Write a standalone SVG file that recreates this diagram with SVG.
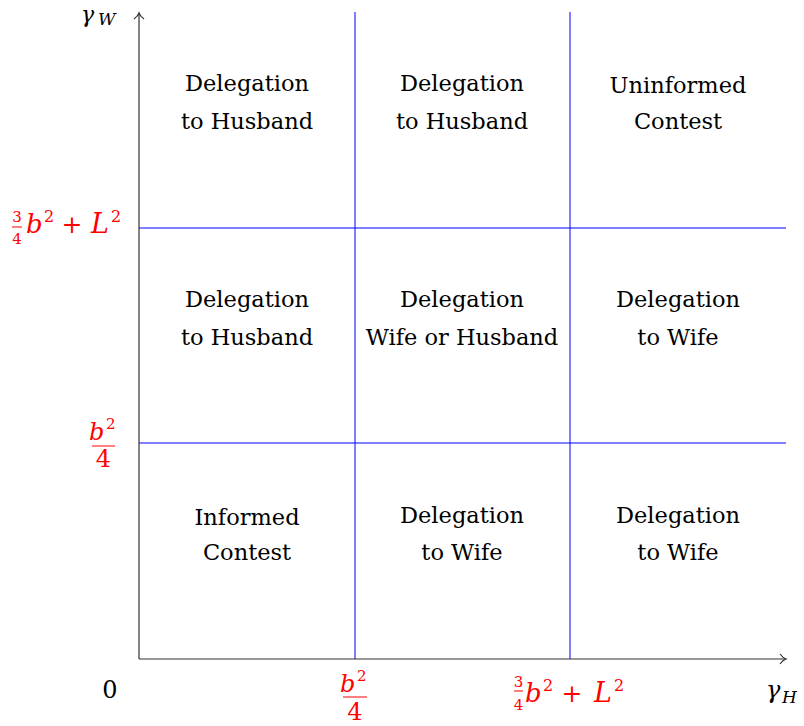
<svg xmlns="http://www.w3.org/2000/svg" width="804" height="726" viewBox="0 0 804 726">
<style>
.cell{font-family:"DejaVu Serif",serif;font-size:22.5px;fill:#000;text-anchor:middle}
.m{font-family:"DejaVu Serif",serif;fill:#ff0000}
.mi{font-style:italic}
.ax{font-family:"DejaVu Serif",serif;fill:#000}
.axis{stroke:#333;stroke-width:1.2;fill:none}
.grid{stroke:#0000ff;stroke-width:1;fill:none}
.bar{stroke:#ff0000;stroke-width:1}
</style>
<defs>
<marker id="arr" markerWidth="10" markerHeight="12" refX="8" refY="6" orient="auto" markerUnits="userSpaceOnUse">
<path d="M2,1 Q5,5 8,6 Q5,7 2,11" fill="none" stroke="#333" stroke-width="1.2"/>
</marker>
</defs>
<g id="connectors">
<line class="grid" x1="355" y1="12" x2="355" y2="659"/>
<line class="grid" x1="570" y1="12" x2="570" y2="659"/>
<line class="grid" x1="139" y1="228" x2="786" y2="228"/>
<line class="grid" x1="139" y1="443" x2="786" y2="443"/>
<line class="axis" x1="139" y1="659" x2="139" y2="13" marker-end="url(#arr)"/>
<line class="axis" x1="139" y1="659" x2="786" y2="659" marker-end="url(#arr)"/>
</g>
<g id="cell-1-1"><text class="cell" x="247" y="91">Delegation</text><text class="cell" x="247" y="129">to Husband</text></g>
<g id="cell-1-2"><text class="cell" x="462" y="91">Delegation</text><text class="cell" x="462" y="129">to Husband</text></g>
<g id="cell-1-3"><text class="cell" x="678" y="93">Uninformed</text><text class="cell" x="678" y="129">Contest</text></g>
<g id="cell-2-1"><text class="cell" x="247" y="307">Delegation</text><text class="cell" x="247" y="345">to Husband</text></g>
<g id="cell-2-2"><text class="cell" x="462" y="307">Delegation</text><text class="cell" x="462" y="345">Wife or Husband</text></g>
<g id="cell-2-3"><text class="cell" x="678" y="307">Delegation</text><text class="cell" x="678" y="345">to Wife</text></g>
<g id="cell-3-1"><text class="cell" x="247" y="525">Informed</text><text class="cell" x="247" y="560">Contest</text></g>
<g id="cell-3-2"><text class="cell" x="462" y="523">Delegation</text><text class="cell" x="462" y="560">to Wife</text></g>
<g id="cell-3-3"><text class="cell" x="678" y="523">Delegation</text><text class="cell" x="678" y="560">to Wife</text></g>
<g id="label-gammaW">
<text class="ax mi" x="81" y="22" font-size="22">γ</text>
<text class="ax mi" x="98" y="25" font-size="17">W</text>
</g>
<g id="label-gammaH">
<text class="ax mi" x="766" y="698" font-size="24">γ</text>
<text class="ax mi" x="782" y="703" font-size="17">H</text>
</g>
<g id="label-zero"><text class="ax" x="110" y="698" font-size="24" text-anchor="middle">0</text></g>
<g id="label-y-high">
<text class="m" x="17" y="222" font-size="15" text-anchor="middle">3</text>
<line class="bar" x1="12" y1="227" x2="22" y2="227"/>
<text class="m" x="17" y="244" font-size="15" text-anchor="middle">4</text>
<text class="m mi" x="26" y="233" font-size="26">b</text>
<text class="m" x="44" y="222" font-size="16">2</text>
<text class="m" x="72" y="233" font-size="25" text-anchor="middle">+</text>
<text class="m mi" x="91" y="233" font-size="27">L</text>
<text class="m" x="111" y="222" font-size="16">2</text>
</g>
<g id="label-y-low">
<text class="m mi" x="89" y="440" font-size="24">b</text>
<text class="m" x="106" y="429" font-size="15">2</text>
<line class="bar" x1="92" y1="446" x2="115" y2="446"/>
<text class="m" x="103.5" y="467" font-size="24" text-anchor="middle">4</text>
</g>
<g id="label-x-low">
<text class="m mi" x="340" y="692" font-size="24">b</text>
<text class="m" x="357" y="681" font-size="15">2</text>
<line class="bar" x1="343" y1="697" x2="367" y2="697"/>
<text class="m" x="355" y="720" font-size="24" text-anchor="middle">4</text>
</g>
<g id="label-x-high">
<text class="m" x="518.5" y="687" font-size="15" text-anchor="middle">3</text>
<line class="bar" x1="514" y1="691" x2="523" y2="691"/>
<text class="m" x="518.5" y="710" font-size="15" text-anchor="middle">4</text>
<text class="m mi" x="525" y="702" font-size="26">b</text>
<text class="m" x="543" y="691" font-size="16">2</text>
<text class="m" x="572" y="702" font-size="25" text-anchor="middle">+</text>
<text class="m mi" x="594" y="702" font-size="27">L</text>
<text class="m" x="614" y="691" font-size="16">2</text>
</g>
</svg>
